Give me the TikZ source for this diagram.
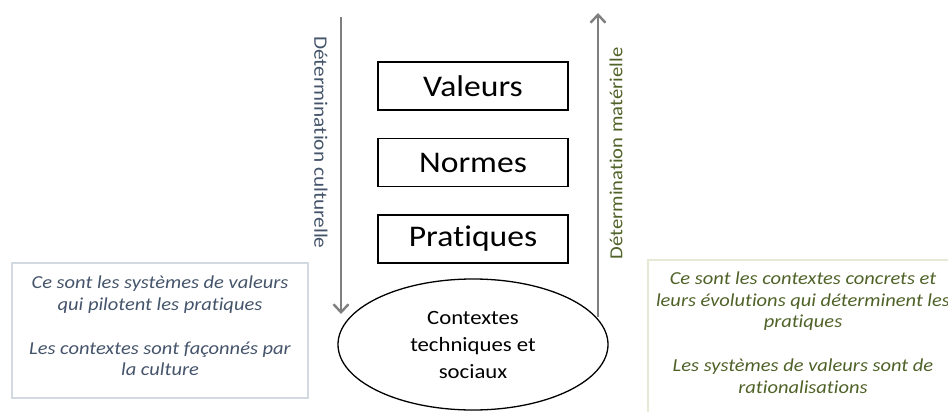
\documentclass[tikz,border=0pt]{standalone}
\usepackage{fontspec}
\setmainfont[FakeStretch=1.12,Ligatures={NoCommon}]{Carlito}
\usetikzlibrary{arrows.meta,shapes.geometric}
\definecolor{arrgray}{HTML}{7F7F7F}
\definecolor{bluetxt}{HTML}{44546A}
\definecolor{greentxt}{HTML}{4F6228}
\definecolor{blueedge}{HTML}{D3D9E1}
\definecolor{greenedge}{HTML}{E4EAD6}
\tikzset{
  levelbox/.style={draw=black, line width=1.8pt, minimum width=190pt, minimum height=48pt, inner sep=0pt, font=\fontsize{30}{36}\selectfont},
  ctxellipse/.style={draw=black, line width=1.3pt, ellipse, minimum width=270pt, minimum height=131pt, inner sep=0pt, align=center, font=\fontsize{20.3}{27}\selectfont},
  bigarrow/.style={draw=arrgray, line width=2.6pt, -{Straight Barb[length=8pt,width=15pt,line width=2.4pt]}},
  sidelabel/.style={font=\fontsize{19}{22}\selectfont, inner sep=0pt},
  note/.style={align=center, font=\itshape\fontsize{18.3}{21.8}\selectfont, inner sep=0pt},
}
\begin{document}
\begin{tikzpicture}[x=1pt,y=-1pt]
\useasboundingbox (0,0) rectangle (948,412);
% side boxes
\node[draw=blueedge, line width=1.2pt, minimum width=296pt, minimum height=135pt, inner sep=0pt] (leftbox) at (160,330.5) {};
\node[draw=greenedge, line width=1.2pt, minimum width=320pt, minimum height=170pt, inner sep=0pt] (rightbox) at (808,345) {};
\node[note, text=bluetxt] (lefttext) at (160,326) {Ce sont les systèmes de valeurs\\qui pilotent les pratiques\\[21.8pt]Les contextes sont façonnés par\\la culture};
\node[note, text=greentxt] (righttext) at (803,332.5) {Ce sont les contextes concrets et\\leurs évolutions qui déterminent les\\pratiques\\[21.8pt]Les systèmes de valeurs sont de\\rationalisations};
% level boxes
\node[levelbox] (valeurs) at (473,86) {Valeurs};
\node[levelbox] (normes) at (473,162.5) {Normes};
\node[levelbox] (pratiques) at (473,239) {Pratiques};
\node[ctxellipse] (ctx) at (473,344.5) {Contextes\\techniques et\\sociaux};
% arrows
\coordinate (ltop) at (341,17);
\coordinate (lbot) at (341,314);
\coordinate (rbot) at (598,317);
\coordinate (rtop) at (598,13);
\draw[bigarrow] (ltop) -- (lbot);
\draw[bigarrow] (rbot) -- (rtop);
\node[sidelabel, text=bluetxt, rotate=-90] (lcult) at (321,142.5) {Détermination culturelle};
\node[sidelabel, text=greentxt, rotate=90, font=\fontsize{18.4}{22}\selectfont] (rmat) at (616,153.5) {Détermination matérielle};
\end{tikzpicture}
\end{document}
